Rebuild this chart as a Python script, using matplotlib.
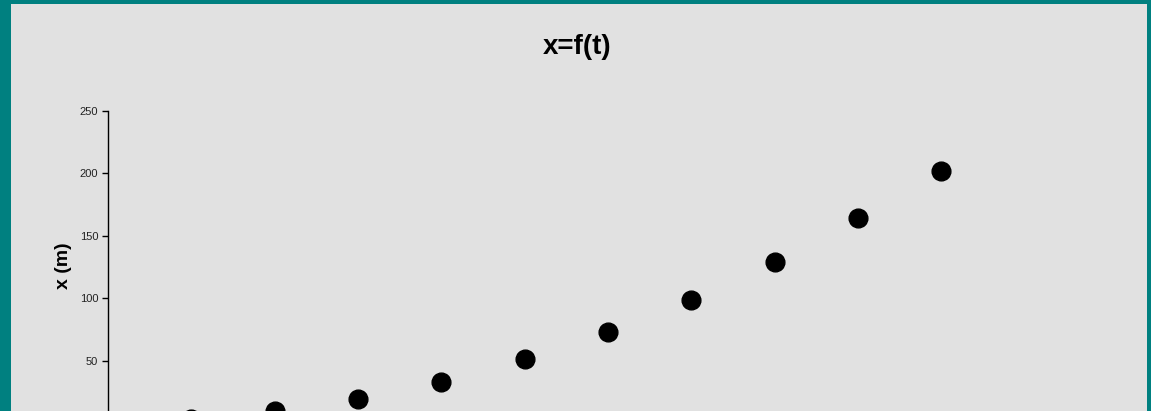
import matplotlib
matplotlib.use("Agg")
import matplotlib.pyplot as plt
from matplotlib.patches import Rectangle

t_values = [1, 2, 3, 4, 5, 6, 7, 8, 9, 10]
x_values = [3, 10, 19, 33, 51, 73, 99, 129, 164, 202]
y_ticks = [50, 100, 150, 200, 250]

plt.rcParams['font.family'] = ['Liberation Sans', 'DejaVu Sans']

W, H = 1151, 411
fig = plt.figure(figsize=(W / 100, H / 100), dpi=100)
fig.patch.set_facecolor('#008080')
fig.patches.append(Rectangle((11 / W, 0), (1147 - 11) / W, (H - 4) / H,
                             transform=fig.transFigure, facecolor='#e1e1e1',
                             edgecolor='none', zorder=-5))

left = 108 / W
width = 1000 / W
top_px = 111
bottom_px = 423.1
ax = fig.add_axes([left, (H - bottom_px) / H, width, (bottom_px - top_px) / H])
ax.set_zorder(2)
ax.set_facecolor('none')
ax.plot(t_values, x_values, 'o', color='black', markersize=13.5, clip_on=False)
ax.set_xlim(0, 12)
ax.set_ylim(0, 250)
ax.set_yticks(y_ticks)
ax.set_xticks([])
ax.tick_params(axis='y', labelsize=8, length=4, width=1, pad=3,
               colors='black', labelcolor='#222222')
for s in ['top', 'right']:
    ax.spines[s].set_visible(False)
ax.spines['left'].set_linewidth(1)
ax.set_ylabel('x (m)', fontsize=14, fontweight='bold')
ax.yaxis.set_label_coords(63 / W, 1 - 266 / H, transform=fig.transFigure)
ax.yaxis.label.set_va('center')

fig.text(577 / W, 1 - 47 / H, 'x=f(t)', ha='center', va='center',
         fontsize=20, fontweight='bold')

fig.savefig('out.png', dpi=100, facecolor=fig.get_facecolor())
